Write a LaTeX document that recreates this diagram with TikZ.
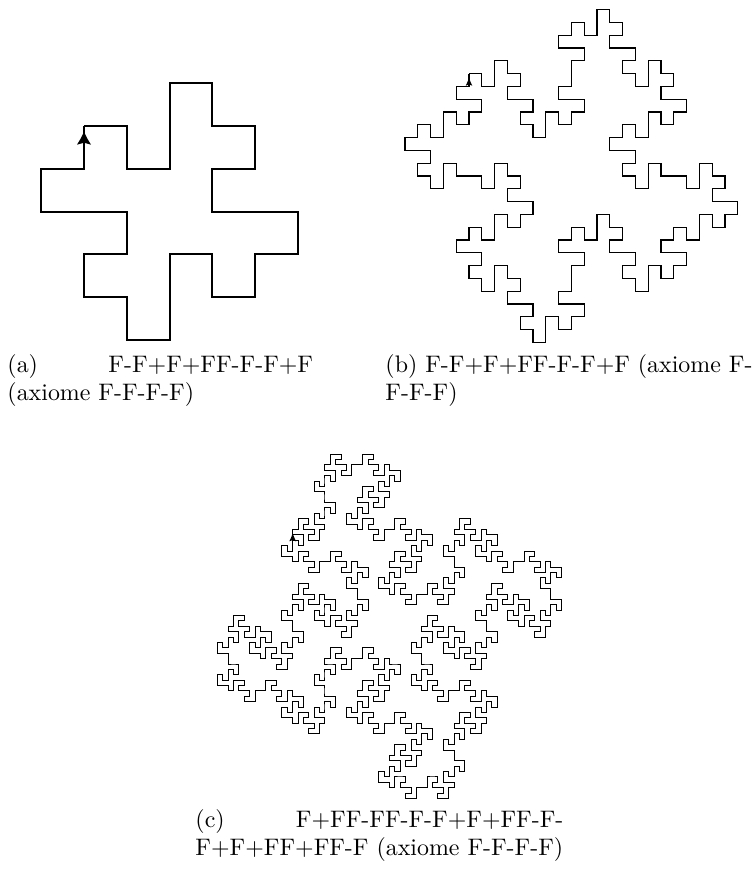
\documentclass[tikz,border=0pt]{standalone}
\usetikzlibrary{lindenmayersystems}
\tikzset{>=stealth}
\colorlet{penColor}{black}

\pgfdeclarelindenmayersystem{ile quadratique}{\rule{F -> F-F+F+FF-F-F+F}}
\pgfdeclarelindenmayersystem{ile quadratique b}{\rule{F -> F+FF-FF-F-F+F+FF-F-F+F+FF+FF-F}}

\tikzset{
  tortue/.pic={\fill[penColor] (0,0) -- (-0.22,-0.5) -- (-0.5,-1) -- (0,-0.85) -- (0.5,-1) -- (0.22,-0.5) -- cycle;},
  legende/.style={inner sep=0pt, align=left, anchor=base west, font=\fontsize{10.25pt}{12pt}\selectfont}
}

\begin{document}
\begin{tikzpicture}[x=0.4286pt,y=0.4286pt]
		\useasboundingbox (0,0) rectangle (753,873);
		% (a) ordre 1
		\draw[penColor, line width=0.85pt, shift={(84,747)},
		  l-system={ile quadratique, axiom=F-F-F-F, order=1, angle=90, step=18.35pt}] lindenmayer system;
		\pic[xscale=14, yscale=13] at (84,741.3) {tortue};
		% (b) ordre 2
		\draw[penColor, line width=0.5pt, shift={(469,799.3)},
		  l-system={ile quadratique, axiom=F-F-F-F, order=2, angle=90, step=5.486pt}] lindenmayer system;
		\pic[xscale=6.5, yscale=8] at (469,795.3) {tortue};
		% (c) ordre 2
		\draw[penColor, line width=0.43pt, shift={(292.7,343.5)},
		  l-system={ile quadratique b, axiom=F-F-F-F, order=2, angle=90, step=2.306pt}] lindenmayer system;
		\pic[xscale=6.7, yscale=8] at (292.7,339.7) {tortue};
		% legendes
		\node[legende, text width=131pt] (lega) at (7,500) {(a)\hfill F-F+F+FF-F-F+F\\(axiome F-F-F-F)};
		\node[legende, text width=165pt] (legb) at (385,500) {(b) F-F+F+FF-F-F+F (axiome F-\\F-F-F)};
		\node[legende, text width=157.7pt] (legc) at (195,45) {(c)\hfill F+FF-FF-F-F+F+FF-F-\\\mbox{F+F+FF+FF-F (axiome F-F-F-F)}};
\end{tikzpicture}
\end{document}
